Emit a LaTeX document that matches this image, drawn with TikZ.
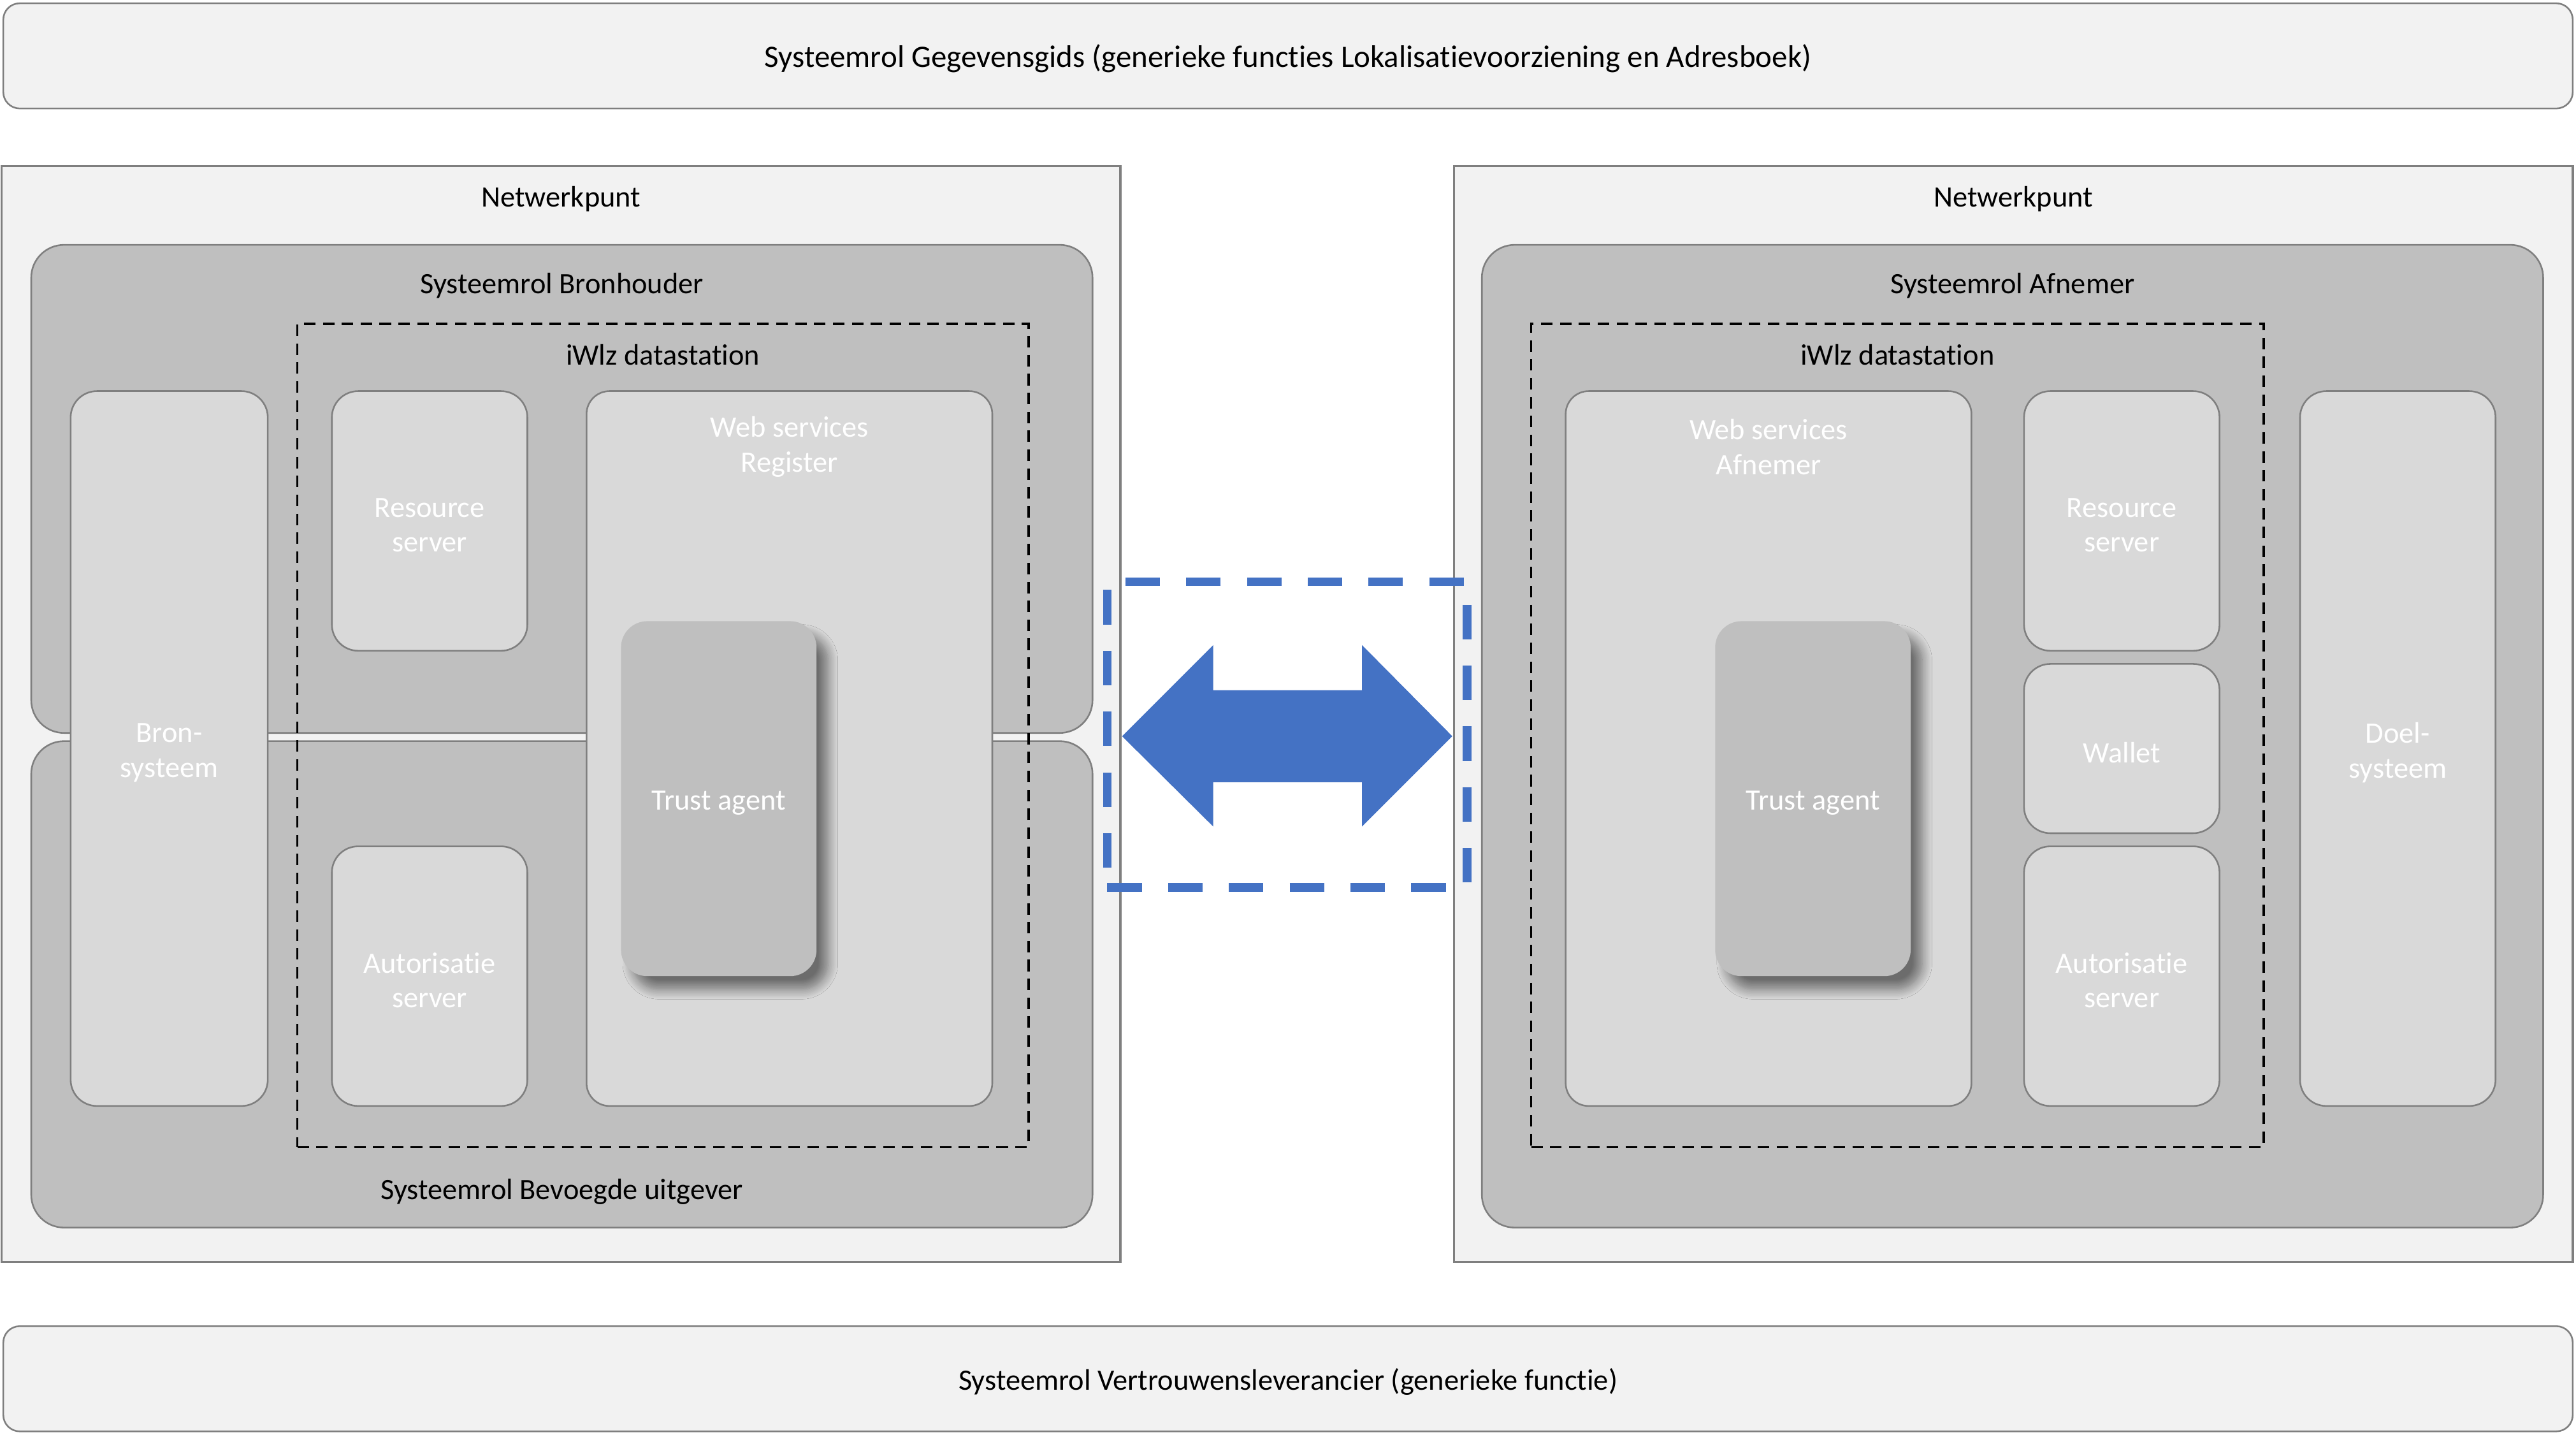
\documentclass[tikz,border=0pt]{standalone}
\usepackage{fontspec}
\setmainfont{Carlito}[Ligatures={NoCommon}]
\usetikzlibrary{shadows.blur}
\definecolor{bordergray}{HTML}{7F7F7F}
\definecolor{lightbg}{HTML}{F2F2F2}
\definecolor{midgray}{HTML}{BFBFBF}
\definecolor{boxgray}{HTML}{D9D9D9}
\definecolor{arrowblue}{HTML}{4472C4}
\begin{document}
\begin{tikzpicture}[x=1pt,y=-1pt,
  every node/.style={font=\fontsize{18}{21.2}\selectfont, inner sep=0pt, outer sep=0pt},
  banner/.style={draw=bordergray, line width=1pt, fill=lightbg, rounded corners=10pt},
  netbox/.style={draw=bordergray, line width=1.3pt, fill=lightbg},
  rolebox/.style={draw=bordergray, line width=1pt, fill=midgray, rounded corners=20pt},
  compbox/.style={draw=bordergray, line width=1pt, fill=boxgray, rounded corners=16pt},
  trustbox/.style={fill=midgray, rounded corners=16pt,
    blur shadow={shadow xshift=7pt, shadow yshift=-8pt, shadow blur radius=6pt, shadow opacity=50, shadow blur steps=12}},
  dsbox/.style={draw=black, line width=1.4pt, dash pattern=on 7pt off 4.5pt},
  linkbox/.style={draw=arrowblue, line width=5.3pt, dash pattern=on 21pt off 16pt},
  lbl/.style={text=black, align=center, yshift=-2pt},
  wlbl/.style={text=white, align=center, yshift=-2.5pt},
  bigl/.style={text=black, align=center, yshift=-1.5pt, font=\fontsize{19}{22}\selectfont},
]
\useasboundingbox[fill=white] (0,0) rectangle (1568,873);

% banners
\node[banner, minimum width=1564pt, minimum height=64pt] (gids) at (784,34) {};
\node[bigl] (gidst) at (gids.center) {Systeemrol Gegevensgids (generieke functies Lokalisatievoorziening en Adresboek)};
\node[banner, minimum width=1564pt, minimum height=64pt] (vertr) at (784,839) {};
\node[lbl] (vertrt) at (vertr.center) {Systeemrol Vertrouwensleverancier (generieke functie)};

% netwerkpunten
\node[netbox, minimum width=681pt, minimum height=667pt] (npL) at (341.5,434.5) {};
\node[lbl] (npLt) at (341.5,119) {Netwerkpunt};
\node[netbox, minimum width=681pt, minimum height=667pt] (npR) at (1225.5,434.5) {};
\node[lbl] (npRt) at (1225.5,119) {Netwerkpunt};

% role boxes left
\node[rolebox, minimum width=646pt, minimum height=297pt] (bron) at (342,297.5) {};
\node[lbl] (bront) at (342,172) {Systeemrol Bronhouder};
\node[rolebox, minimum width=646pt, minimum height=296pt] (bev) at (342,599) {};
\node[lbl] (bevt) at (342,723) {Systeemrol Bevoegde uitgever};

% role box right
\node[rolebox, minimum width=646pt, minimum height=598pt] (afn) at (1225,448) {};
\node[lbl] (afnt) at (1225,172) {Systeemrol Afnemer};

% datastations
\node[dsbox, minimum width=445pt, minimum height=501pt] (dsL) at (403.5,447.5) {};
\node[lbl] (dsLt) at (403.5,214) {iWlz datastation};
\node[dsbox, minimum width=446pt, minimum height=501pt] (dsR) at (1155,447.5) {};
\node[lbl] (dsRt) at (1155,214) {iWlz datastation};

% left components
\node[compbox, minimum width=120pt, minimum height=435pt] (bronsys) at (103,455.5) {};
\node[wlbl] (bronsyst) at (bronsys.center) {Bron-\\systeem};
\node[compbox, minimum width=119pt, minimum height=158pt] (rsL) at (261.5,317) {};
\node[wlbl] (rsLt) at (rsL.center) {Resource\\server};
\node[compbox, minimum width=119pt, minimum height=158pt] (asL) at (261.5,594) {};
\node[wlbl] (asLt) at (asL.center) {Autorisatie\\server};
\node[compbox, rounded corners=14pt, minimum width=247pt, minimum height=435pt] (wsL) at (480.5,455.5) {};
\node[wlbl] (wsLt) at (480.5,269.5) {Web services\\Register};
\node[trustbox, minimum width=119pt, minimum height=216pt] (taL) at (437.5,486) {};
\node[wlbl] (taLt) at (taL.center) {Trust agent};

% right components
\node[compbox, rounded corners=14pt, minimum width=247pt, minimum height=435pt] (wsR) at (1076.5,455.5) {};
\node[wlbl] (wsRt) at (1076.5,269.5) {Web services\\Afnemer};
\node[trustbox, minimum width=119pt, minimum height=216pt] (taR) at (1103.5,486) {};
\node[wlbl] (taRt) at (taR.center) {Trust agent};
\node[compbox, minimum width=119pt, minimum height=158pt] (rsR) at (1291.5,317) {};
\node[wlbl] (rsRt) at (rsR.center) {Resource\\server};
\node[compbox, minimum width=119pt, minimum height=103pt] (wallet) at (1291.5,455.5) {};
\node[wlbl] (wallett) at (wallet.center) {Wallet};
\node[compbox, minimum width=119pt, minimum height=158pt] (asR) at (1291.5,594) {};
\node[wlbl] (asRt) at (asR.center) {Autorisatie\\server};
\node[compbox, minimum width=119pt, minimum height=435pt] (doel) at (1459.5,455.5) {};
\node[wlbl] (doelt) at (doel.center) {Doel-\\systeem};

% link box and double arrow
\node[linkbox, minimum width=219pt, minimum height=186pt] (link) at (783.5,447) {};
\fill[arrowblue] (683,448) -- (738.5,392.5) -- (738.5,420) -- (829,420) -- (829,392.5)
  -- (884,448) -- (829,503) -- (829,476) -- (738.5,476) -- (738.5,503) -- cycle;
\end{tikzpicture}
\end{document}
